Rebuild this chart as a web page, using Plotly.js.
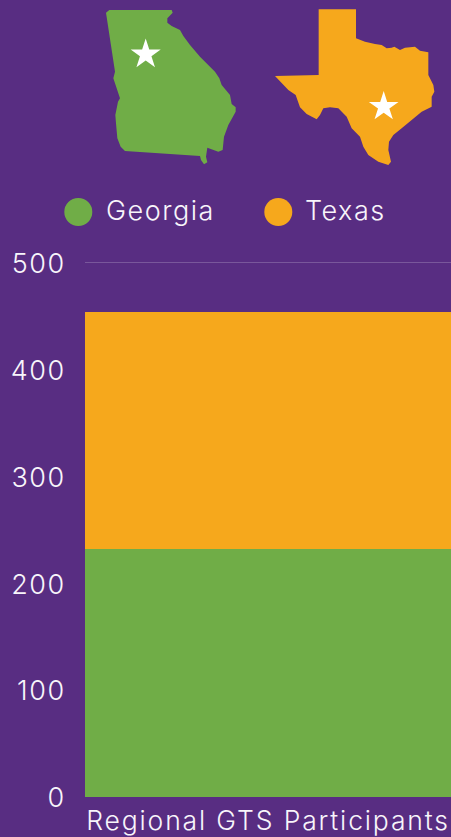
<!DOCTYPE html>
<html><head><meta charset="utf-8">
<script src="https://cdn.plot.ly/plotly-3.0.1.min.js"></script>
<style>html,body{margin:0;padding:0;background:#582d82;overflow:hidden}
svg text{letter-spacing:1.5px}
g.xtick text{letter-spacing:1.85px}
g.ytick{transform:translateY(1px)}</style>
</head><body><div id="chart" style="width:451px;height:837px"></div>
<script>
const categories = ["Regional GTS Participants"];
const georgiaValues = [232];
const texasValues = [221];
const tickLabels = [0,100,200,300,400,500];
const seriesNames = ["Georgia","Texas"];

const BG="#582d82", GREEN="#70ad47", ORANGE="#f6a81c", TEXT="#f8f5fb";
const FONT="Inter, 'Open Sans', sans-serif", SIZE=27;
const M={l:85,r:0,t:252,b:40}, W=451, H=837;
const px=x=>(x-M.l)/(W-M.l-M.r), py=y=>(H-M.b-y)/(H-M.t-M.b);
const pathOf=pts=>"M"+pts.map(p=>px(p[0]).toFixed(5)+","+py(p[1]).toFixed(5)).join("L")+"Z";

const gaZoom=[[48,38],[58,30],[245,30],[248,38],[232,55],[232,68],[245,78],[270,90],[280,108],[300,135],[330,170],[375,215],[388,235],[395,255],[420,285],[425,312],[437,322],[437,335],[415,375],[402,410],[398,450],[385,455],[352,443],[348,470],[352,487],[342,493],[333,480],[330,468],[105,453],[92,440],[82,415],[78,370],[76,345],[84,305],[90,295],[70,235],[75,215]];
const txZoom=[[161,28],[273,28],[273,115],[300,125],[330,132],[350,135],[365,145],[380,143],[388,140],[405,150],[420,143],[450,140],[465,152],[490,157],[490,225],[505,255],[508,275],[500,290],[500,320],[470,335],[440,360],[410,385],[385,405],[372,425],[370,450],[378,485],[370,495],[340,485],[310,465],[295,440],[285,410],[260,385],[245,350],[220,325],[195,322],[175,325],[165,345],[155,358],[125,342],[105,322],[92,285],[70,270],[30,228],[161,225]];
const ga=gaZoom.map(p=>[p[0]/3+90,p[1]/3]);
const tx=txZoom.map(p=>[p[0]/3+265,p[1]/3]);
function star(cx,cy,R){const o=[];for(let i=0;i<10;i++){const r=i%2?R*0.382:R,a=-Math.PI/2+i*Math.PI/5;o.push([cx+r*Math.cos(a),cy+r*Math.sin(a)]);}return o;}
const poly=(pts,c)=>({type:"path",xref:"paper",yref:"paper",path:pathOf(pts),fillcolor:c,line:{width:0},layer:"above"});
const dot=(cx,cy,r,c)=>({type:"circle",xref:"paper",yref:"paper",x0:px(cx-r),x1:px(cx+r),y0:py(cy+r),y1:py(cy-r),fillcolor:c,line:{width:0},layer:"above"});
const tf={family:FONT,size:SIZE,color:TEXT,weight:300};
const label=(t,x,y)=>({text:t,xref:"paper",yref:"paper",x:px(x),y:py(y),xanchor:"left",yanchor:"middle",showarrow:false,font:tf});

const traces=[
 {type:"bar",name:seriesNames[0],x:categories,y:georgiaValues,marker:{color:GREEN}},
 {type:"bar",name:seriesNames[1],x:categories,y:texasValues,marker:{color:ORANGE}}
];
const layout={
 width:W,height:H,margin:M,paper_bgcolor:BG,plot_bgcolor:BG,barmode:"stack",bargap:0,showlegend:false,
 font:tf,
 xaxis:{type:"category",showgrid:false,zeroline:false,showline:false,ticks:"outside",ticklen:0,tickcolor:"rgba(0,0,0,0)",tickfont:Object.assign({},tf,{size:26.5})},
 yaxis:{range:[0,509.5],tickvals:tickLabels,ticktext:tickLabels.map(String),showgrid:true,gridcolor:"rgba(255,255,255,0.2)",gridwidth:1,zeroline:false,showline:false,ticks:"outside",ticklen:13,tickcolor:"rgba(0,0,0,0)",tickfont:tf},
 shapes:[poly(ga,GREEN),poly(tx,ORANGE),poly(star(145.7,54.4,15.8),"#fff"),poly(star(383.7,106.7,15.6),"#fff"),dot(78.3,212,14,GREEN),dot(278.3,212,14,ORANGE)],
 annotations:[label(seriesNames[0],103.5,210),label(seriesNames[1],302.5,210)]
};
Plotly.newPlot("chart",traces,layout,{displayModeBar:false,staticPlot:true});
</script></body></html>
